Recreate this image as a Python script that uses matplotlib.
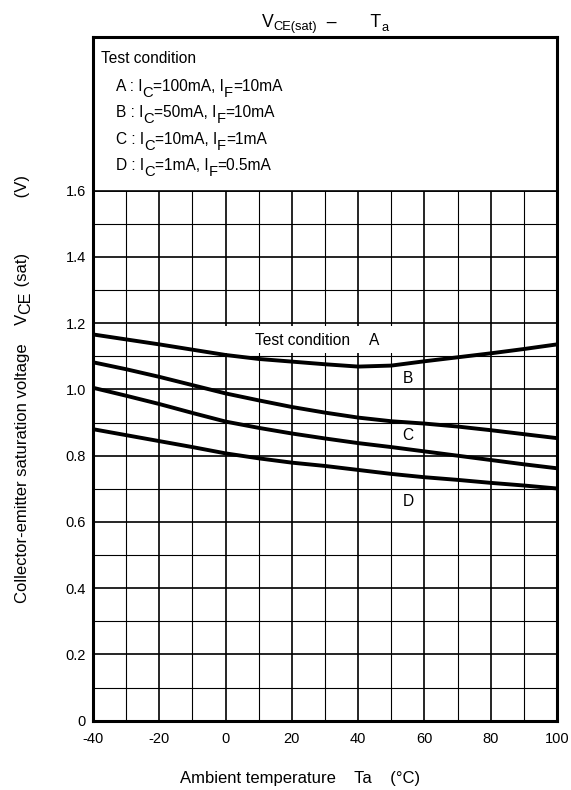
import numpy as np
import matplotlib
matplotlib.use("Agg")
import matplotlib.pyplot as plt
from matplotlib.patches import Rectangle

plt.rcParams['font.family'] = ['Liberation Sans', 'DejaVu Sans']
plt.rcParams['axes.unicode_minus'] = False

# datos
temps = [-40, -30, -20, -10, 0, 10, 20, 30, 40, 50, 60, 70, 80, 90, 100]
vce_a = [1.166, 1.151, 1.136, 1.120, 1.104, 1.092, 1.084, 1.076, 1.069, 1.072, 1.085, 1.097, 1.109, 1.122, 1.136]
vce_b = [1.082, 1.061, 1.038, 1.013, 0.988, 0.967, 0.947, 0.930, 0.915, 0.904, 0.897, 0.888, 0.877, 0.865, 0.853]
vce_c = [1.005, 0.981, 0.956, 0.929, 0.903, 0.884, 0.867, 0.852, 0.838, 0.826, 0.813, 0.800, 0.787, 0.774, 0.762]
vce_d = [0.880, 0.862, 0.844, 0.826, 0.807, 0.792, 0.779, 0.769, 0.757, 0.745, 0.735, 0.727, 0.718, 0.710, 0.701]

x_ticks = [-40, -20, 0, 20, 40, 60, 80, 100]
y_ticks = [0, 0.2, 0.4, 0.6, 0.8, 1.0, 1.2, 1.4, 1.6]
y_labels = ['0', '0.2', '0.4', '0.6', '0.8', '1.0', '1.2', '1.4', '1.6']

# texto normal y subindices alternados
condiciones = [['A : I', 'C', '=100mA, I', 'F', '=10mA'],
               ['B : I', 'C', '=50mA, I', 'F', '=10mA'],
               ['C : I', 'C', '=10mA, I', 'F', '=1mA'],
               ['D : I', 'C', '=1mA, I', 'F', '=0.5mA']]

fig = plt.figure(figsize=(5.71, 7.9), dpi=100)
ax = fig.add_axes([0.1629, 0.0877, 0.8126, 0.8651])
ax.set_xlim(-40, 100)
ax.set_ylim(0, 2.063)
ax.set_axisbelow(True)


def encadenar(x, y, partes, transform, rot=0):
    # partes: (texto, tamano, bajada en pt respecto a la linea base)
    t = None
    previo = 0
    for texto, tam, baja in partes:
        if t is None:
            if rot == 0:
                t = ax.text(x, y, texto, fontsize=tam, transform=transform, ha='left', va='baseline', zorder=3)
            else:
                t = ax.text(x, y, texto, fontsize=tam, transform=transform, rotation=90,
                            ha='right', va='bottom', zorder=3)
        else:
            d = baja - previo
            if rot == 0:
                t = ax.annotate(texto, xy=(1, 0), xycoords=t, xytext=(0, -d), textcoords='offset points',
                                fontsize=tam, ha='left', va='bottom', zorder=3)
            else:
                t = ax.annotate(texto, xy=(1, 1), xycoords=t, xytext=(d, 0), textcoords='offset points',
                                fontsize=tam, rotation=90, ha='right', va='bottom', zorder=3)
        previo = baja
    return t


ax.set_xticks(x_ticks)
ax.set_xticks(np.arange(-40, 101, 10), minor=True)
ax.set_yticks(y_ticks, y_labels)
ax.set_yticks(np.arange(0, 1.65, 0.1), minor=True)
ax.tick_params(which='both', length=0, labelsize=10.5)
ax.tick_params(axis='x', pad=8)
ax.tick_params(axis='y', pad=5)
ax.grid(which='major', color='black', lw=1.2)
ax.grid(which='minor', color='black', lw=0.8)
for s in ax.spines.values():
    s.set_linewidth(2.2)

# zona blanca arriba de 1.6
ax.add_patch(Rectangle((-40, 1.6), 140, 0.5, facecolor='white', edgecolor='none', zorder=1))
ax.axhline(1.6, color='black', lw=1.2, zorder=1.1)
# fondo blanco de la etiqueta
ax.add_patch(Rectangle((-9.6, 1.11), 69.2, 0.08, facecolor='white', edgecolor='none', zorder=1))

for serie in [vce_a, vce_b, vce_c, vce_d]:
    ax.plot(temps, serie, color='black', lw=2.8, zorder=2, solid_capstyle='butt')

ax.text(8.9, 1.149, 'Test condition', fontsize=11.2, va='center', ha='left', zorder=3)
ax.text(44.7, 1.149, 'A', fontsize=11.2, va='center', ha='center', zorder=3)
ax.text(55, 1.032, 'B', fontsize=11.2, va='center', ha='center', zorder=3)
ax.text(55, 0.861, 'C', fontsize=11.2, va='center', ha='center', zorder=3)
ax.text(55, 0.661, 'D', fontsize=11.2, va='center', ha='center', zorder=3)

ax.text(0.0166, 0.962, 'Test condition', fontsize=11.2, transform=ax.transAxes, va='baseline', zorder=3)
for i, c in enumerate(condiciones):
    partes = [(p, 10.6 if j % 2 else 11.2, 4.3 if j % 2 else 0) for j, p in enumerate(c)]
    encadenar(0.0496, 0.9214 - i * 0.03848, partes, ax.transAxes)

# titulo
encadenar(261.7 / 571, 1 - 26.7 / 790,
          [('V', 12.7, 0), ('CE(sat)', 9.3, 1.8), ('  –       T', 12.7, 0), ('a', 9.3, 2.2)],
          fig.transFigure)

fig.text(0.526, 1 - 778 / 790, 'Ambient temperature    Ta    (°C)', fontsize=12,
         ha='center', va='center')
encadenar(30 / 571, 1 - 603 / 790,
          [('Collector-emitter saturation voltage    V', 12, 0), ('CE', 11.6, 2.4),
           (' (sat)            (V)', 12, 0)],
          fig.transFigure, rot=90)

fig.savefig('out.png', dpi=100)
